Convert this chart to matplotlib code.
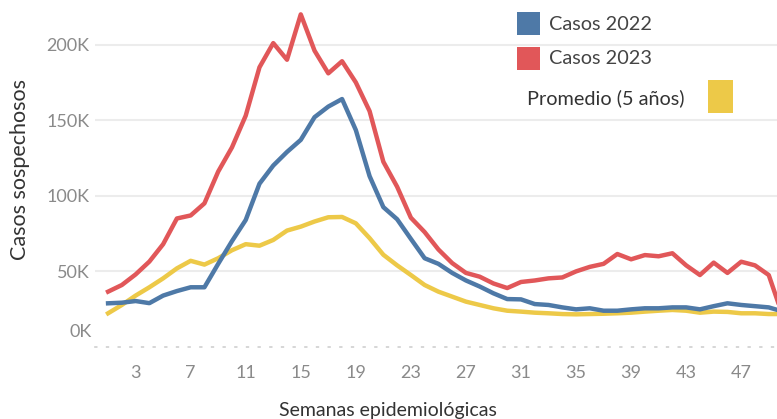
import matplotlib
matplotlib.use("Agg")
import matplotlib.pyplot as plt
from matplotlib.patches import Rectangle
from matplotlib.ticker import FixedLocator, FuncFormatter
import matplotlib.transforms as mtransforms

plt.rcParams['font.family'] = ['Lato', 'DejaVu Sans']

weeks = list(range(1, 51))

casos_2022 = [28.9, 29.3, 30.4, 29.0, 34.0, 37.0, 39.5, 39.5, 55.0, 70.0,
              84.0, 108.0, 120.0, 129.0, 137.0, 152.0, 159.0, 164.0, 143.5, 113.0,
              92.5, 84.5, 71.5, 58.7, 55.0, 49.0, 44.0, 40.0, 35.5, 31.7,
              31.5, 28.4, 27.8, 26.2, 24.9, 25.6, 24.0, 24.0, 24.9, 25.6,
              25.6, 26.2, 26.2, 24.9, 27.0, 28.9, 27.8, 27.0, 26.2, 23.5]

casos_2023 = [36.6, 41.0, 48.0, 56.5, 68.0, 85.0, 87.0, 95.0, 116.0, 132.0,
              153.0, 185.0, 201.0, 190.0, 220.0, 196.0, 181.0, 189.0, 175.0, 156.0,
              122.5, 106.0, 85.5, 76.0, 64.5, 55.5, 49.0, 46.5, 42.0, 39.0,
              43.0, 44.0, 45.4, 46.0, 50.0, 53.0, 55.0, 61.5, 58.0, 60.8,
              60.0, 62.0, 54.0, 47.6, 55.8, 49.0, 56.4, 54.0, 47.6, 21.0]

promedio_5 = [22.3, 27.8, 34.0, 39.5, 45.4, 52.0, 57.0, 54.5, 58.7, 64.0,
              68.0, 67.0, 70.8, 77.0, 79.6, 83.0, 85.8, 86.0, 81.8, 72.0,
              61.0, 54.0, 47.6, 41.0, 36.6, 33.3, 30.0, 27.8, 25.6, 24.0,
              23.4, 22.7, 22.3, 21.8, 21.6, 21.8, 22.0, 22.3, 22.7, 23.4,
              24.0, 24.5, 24.0, 22.7, 23.4, 23.2, 22.3, 22.3, 21.8, 21.8]

x_ticks = [3, 7, 11, 15, 19, 23, 27, 31, 35, 39, 43, 47]
y_ticks = [50, 100, 150, 200]

legend_labels = ["Casos 2022", "Casos 2023", "Promedio (5 años)"]
c_blue, c_red, c_yellow = "#4e79a7", "#e15759", "#edc948"

W, H = 777, 419
fig = plt.figure(figsize=(W / 100, H / 100), dpi=100)
ax = fig.add_axes([95 / W, (H - 347) / H, (W - 95) / W, 347 / H])

ax.plot(weeks, promedio_5, color=c_yellow, lw=3.2, solid_joinstyle='round', zorder=3)
ax.plot(weeks, casos_2022, color=c_blue, lw=3.2, solid_joinstyle='round', zorder=4)
ax.plot(weeks, casos_2023, color=c_red, lw=3.2, solid_joinstyle='round', zorder=5)

ax.set_xlim(0.05, 49.6)
ax.set_ylim(0, 229.5)

for s in ['top', 'right', 'left']:
    ax.spines[s].set_visible(False)
ax.spines['bottom'].set_color('#d0d0d0')
ax.spines['bottom'].set_linestyle((0, (1, 6)))
ax.spines['bottom'].set_linewidth(1.2)

ax.yaxis.set_major_locator(FixedLocator(y_ticks))
ax.yaxis.set_major_formatter(FuncFormatter(lambda v, p: f"{int(v)}K"))
ax.xaxis.set_major_locator(FixedLocator(x_ticks))
ax.grid(axis='y', color='#ececec', lw=1.5)
ax.set_axisbelow(True)
ax.tick_params(axis='both', length=0, labelsize=13, labelcolor='#8a8a8a')
ax.tick_params(axis='y', pad=4)
ax.tick_params(axis='x', pad=13)

# "0K" label sits a bit above the baseline as in the reference
offset = mtransforms.ScaledTranslation(0, 15 / 100, fig.dpi_scale_trans)
ax.text(-0.005, 0, "0K", transform=ax.get_yaxis_transform() + offset,
        ha='right', va='center', fontsize=13, color='#8a8a8a')

fig.text(20 / W, 1 - 170 / H, "Casos sospechosos", rotation=90, ha='center', va='center',
         fontsize=15.5, color='#333333')
fig.text(388 / W, 1 - 410 / H, "Semanas epidemiológicas", ha='center', va='center',
         fontsize=14, color='#333333')

# legend (drawn manually in figure pixel coordinates)
def frect(x0, y0, x1, y1, color):
    fig.patches.append(Rectangle((x0 / W, 1 - y1 / H), (x1 - x0) / W, (y1 - y0) / H,
                                 transform=fig.transFigure, facecolor=color,
                                 edgecolor='none', zorder=10))

frect(517, 12, 540, 35, c_blue)
frect(517, 47, 540, 70, c_red)
frect(708, 80, 733, 113, c_yellow)
fig.text(549 / W, 1 - 24 / H, legend_labels[0], ha='left', va='center', fontsize=14.3, color='#444444')
fig.text(549 / W, 1 - 59 / H, legend_labels[1], ha='left', va='center', fontsize=14.3, color='#444444')
fig.text(527 / W, 1 - 98 / H, legend_labels[2], ha='left', va='center', fontsize=14.3, color='#333333')

fig.savefig("out.png", dpi=100)
